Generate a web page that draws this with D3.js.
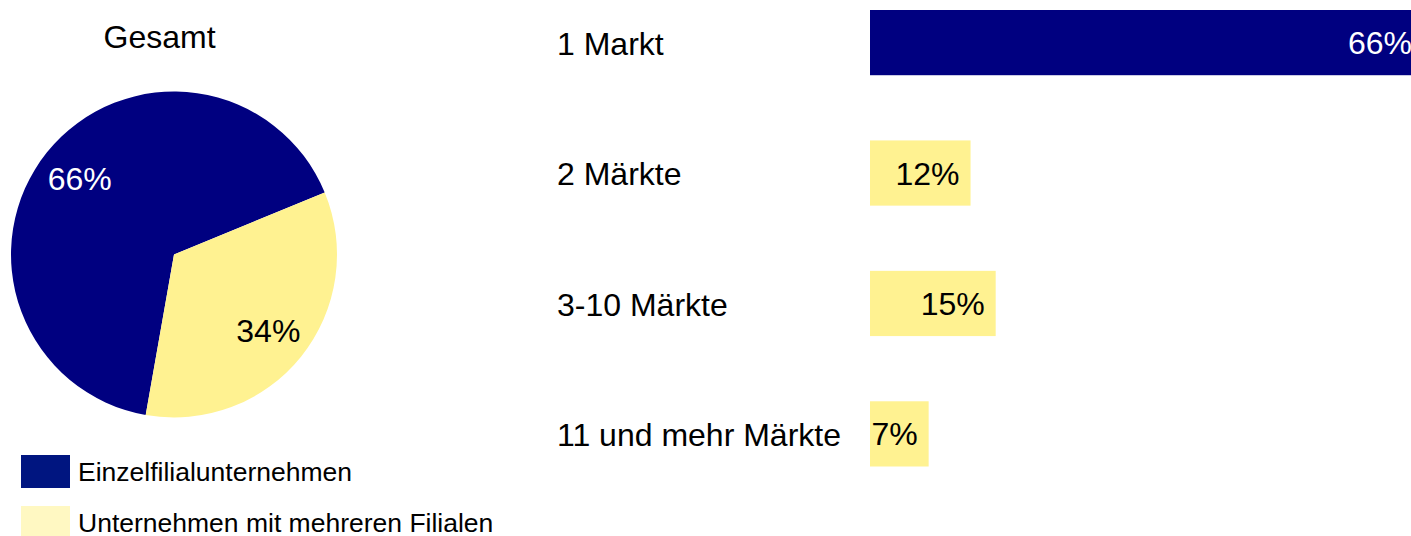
<!DOCTYPE html>
<html>
<head>
<meta charset="utf-8">
<script src="https://cdn.jsdelivr.net/npm/d3@7"></script>
<style>
  body { margin: 0; background: #fff; }
  svg { display: block; font-family: "Liberation Sans", Arial, sans-serif; }
</style>
</head>
<body>
<svg width="1411" height="536"></svg>
<script>
const pieLabels = ['Einzelfilialunternehmen', 'Unternehmen mit mehreren Filialen']
const pieValues = [66, 34]
const pieColors = ['#000080', '#fff291']
const legendColors = ['#001580', '#fff8c2']

const barCategories = ['1 Markt', '2 Märkte', '3-10 Märkte', '11 und mehr Märkte']
const barValues = [66, 12, 15, 7]
const barColors = ['#000080', '#fff291', '#fff291', '#fff291']
const barTextColors = ['#fff', '#000', '#000', '#000']

const svg = d3.select('svg')

/* Pie chart "Gesamt" */
const cx = 174
const cy = 254.5
const radius = 163

svg.append('text')
  .attr('x', 159.5)
  .attr('y', 48)
  .attr('text-anchor', 'middle')
  .style('font-size', '32px')
  .text('Gesamt')

const pie = d3.pie()
  .sort(null)
  .startAngle(190 * Math.PI / 180)
  .endAngle((190 + 360) * Math.PI / 180)

const arc = d3.arc().innerRadius(0).outerRadius(radius)
const labelArc = d3.arc().innerRadius(121).outerRadius(121)

const pieG = svg.append('g')
  .attr('transform', `translate(${cx}, ${cy})`)

const slices = pie(pieValues)

pieG.selectAll('path')
  .data(slices)
  .enter()
  .append('path')
    .attr('d', arc)
    .attr('fill', (d, i) => pieColors[i])

pieG.selectAll('text')
  .data(slices)
  .enter()
  .append('text')
    .attr('transform', d => `translate(${labelArc.centroid(d)})`)
    .attr('text-anchor', 'middle')
    .attr('dy', '0.36em')
    .style('font-size', '32px')
    .attr('fill', (d, i) => i === 0 ? '#fff' : '#000')
    .text(d => d.data + '%')

/* Legend */
const legend = svg.append('g')
  .selectAll('g')
  .data(pieLabels)
  .enter()
  .append('g')
    .attr('transform', (d, i) => `translate(21, ${455 + i * 51})`)

legend.append('rect')
  .attr('width', 49)
  .attr('height', 33)
  .attr('fill', (d, i) => legendColors[i])

legend.append('text')
  .attr('x', 57)
  .attr('y', 16.5)
  .attr('dy', '0.36em')
  .style('font-size', '26.5px')
  .text(d => d)

/* Bar chart */
const xScale = d3.scaleLinear()
  .domain([0, 66])
  .range([870, 1423])

const yScale = d3.scaleBand()
  .domain(barCategories)
  .range([10, 466.5])
  .paddingInner(0.5)
  .paddingOuter(0)

svg.append('g')
  .selectAll('text')
  .data(barCategories)
  .enter()
  .append('text')
    .attr('x', 557)
    .attr('y', d => yScale(d) + yScale.bandwidth() / 2)
    .attr('dy', '0.38em')
    .style('font-size', '32px')
    .text(d => d)

const bars = svg.append('g')
  .selectAll('g')
  .data(barValues)
  .enter()
  .append('g')

bars.append('rect')
  .attr('x', xScale(0))
  .attr('y', (d, i) => yScale(barCategories[i]))
  .attr('width', d => xScale(d) - xScale(0))
  .attr('height', yScale.bandwidth())
  .attr('fill', (d, i) => barColors[i])

bars.append('text')
  .attr('x', d => xScale(d) - 11)
  .attr('y', (d, i) => yScale(barCategories[i]) + yScale.bandwidth() / 2)
  .attr('dy', '0.36em')
  .attr('text-anchor', 'end')
  .style('font-size', '32px')
  .attr('fill', (d, i) => barTextColors[i])
  .text(d => d + '%')
</script>
</body>
</html>
